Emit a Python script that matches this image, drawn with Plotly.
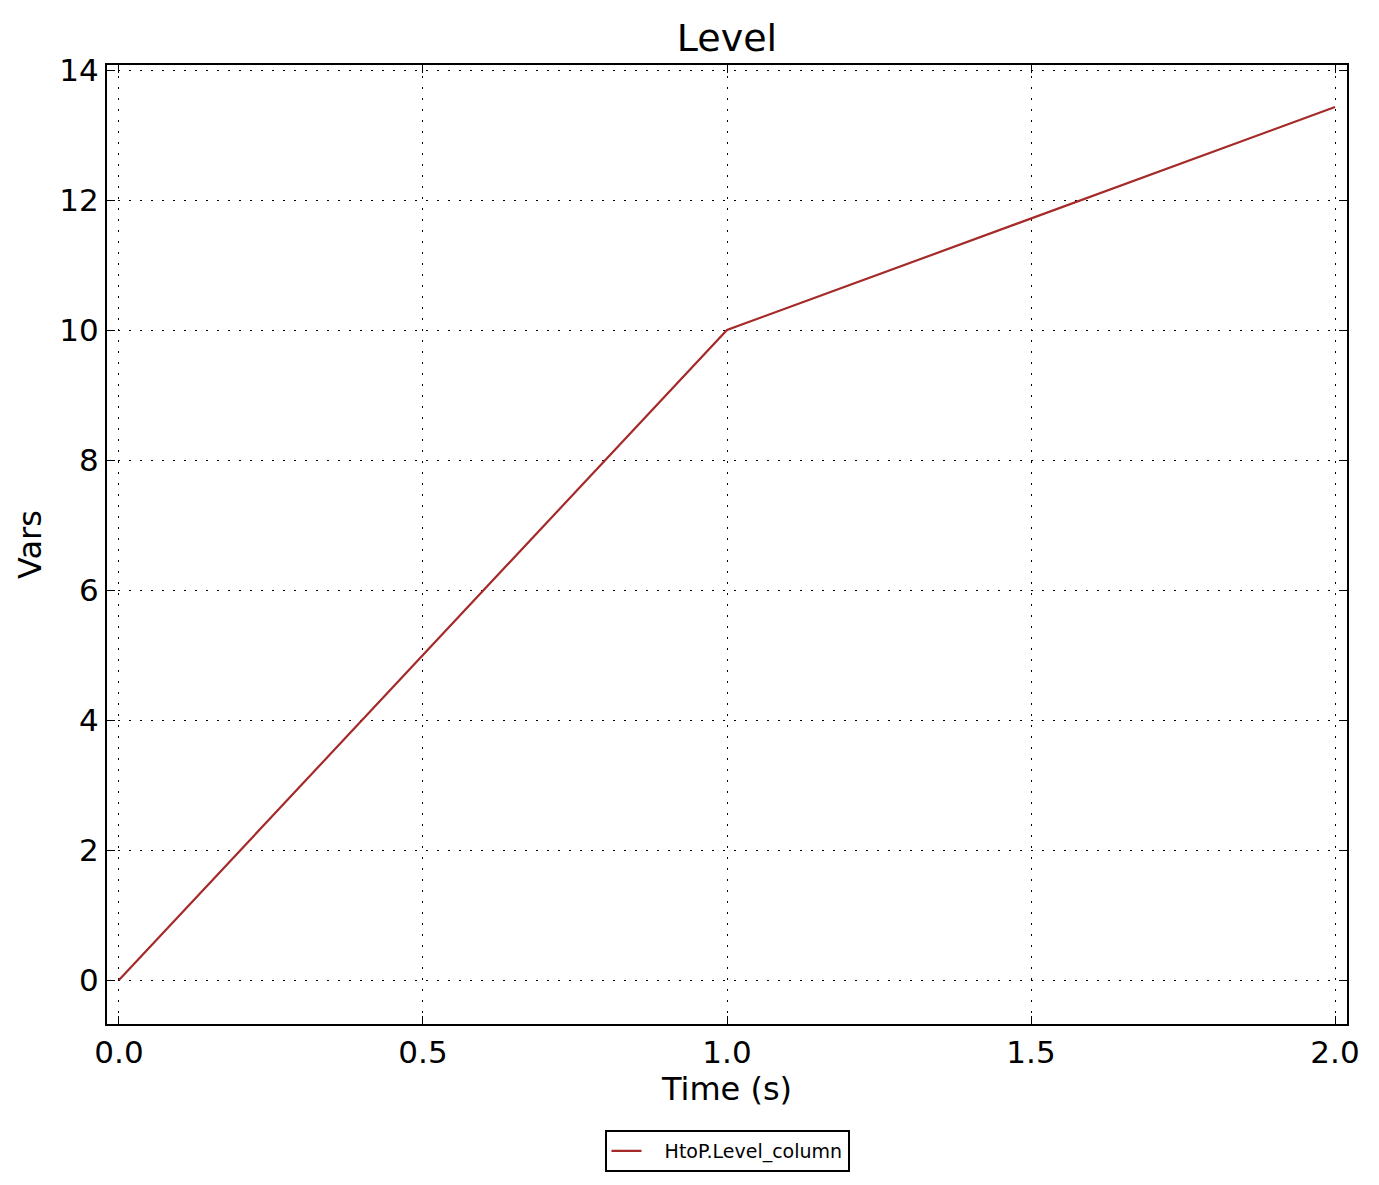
import plotly.graph_objects as go

time_s = [0.0, 1.0, 2.0]
level = [0.0, 10.0, 13.43]
series_name = "HtoP.Level_column"
x_ticks = [0.0, 0.5, 1.0, 1.5, 2.0]
x_tick_labels = ["0.0", "0.5", "1.0", "1.5", "2.0"]
y_ticks = [0, 2, 4, 6, 8, 10, 12, 14]

fig = go.Figure()
fig.add_trace(go.Scatter(x=time_s, y=level, mode="lines",
                         name="\u00a0\u00a0\u00a0" + series_name,
                         line=dict(color="#A52A2A", width=2.2)))

font = "DejaVu Sans, Liberation Sans, sans-serif"
axis_common = dict(
    showline=True, linecolor="black", linewidth=2, mirror="ticks",
    ticks="inside", ticklen=8, tickwidth=1, tickcolor="black",
    showgrid=True, gridcolor="black", gridwidth=1, griddash="2px,9px",
    zeroline=False, tickfont=dict(size=31, color="black", family=font),
)

# page body has an 8px margin, so the figure is laid out 8px in from the window edge
W, H = 1379, 1185
PW, PH = 1240, 959
fig.update_layout(
    width=W, height=H,
    paper_bgcolor="white", plot_bgcolor="white",
    margin=dict(l=99, r=W - 99 - PW, t=57, b=H - 57 - PH),
    title=dict(text="Level", x=0.5, xref="paper", xanchor="center", y=1 - 30 / H, yanchor="middle",
               font=dict(size=38, color="black", family=font)),
    xaxis=dict(range=[-0.0197, 2.0197], tickvals=x_ticks, ticktext=x_tick_labels,
               title=dict(text="Time (s)", font=dict(size=32, color="black", family=font), standoff=8),
               **axis_common),
    yaxis=dict(range=[-0.677, 14.077], tickvals=y_ticks,
               title=dict(text="Vars", font=dict(size=32, color="black", family=font), standoff=8),
               **axis_common),
    showlegend=True,
    legend=dict(x=0.5, xanchor="center", y=-0.1105, yanchor="top",
                bordercolor="black", borderwidth=2, bgcolor="white",
                font=dict(size=19, color="black", family=font)),
)

fig.write_html("out.html")
